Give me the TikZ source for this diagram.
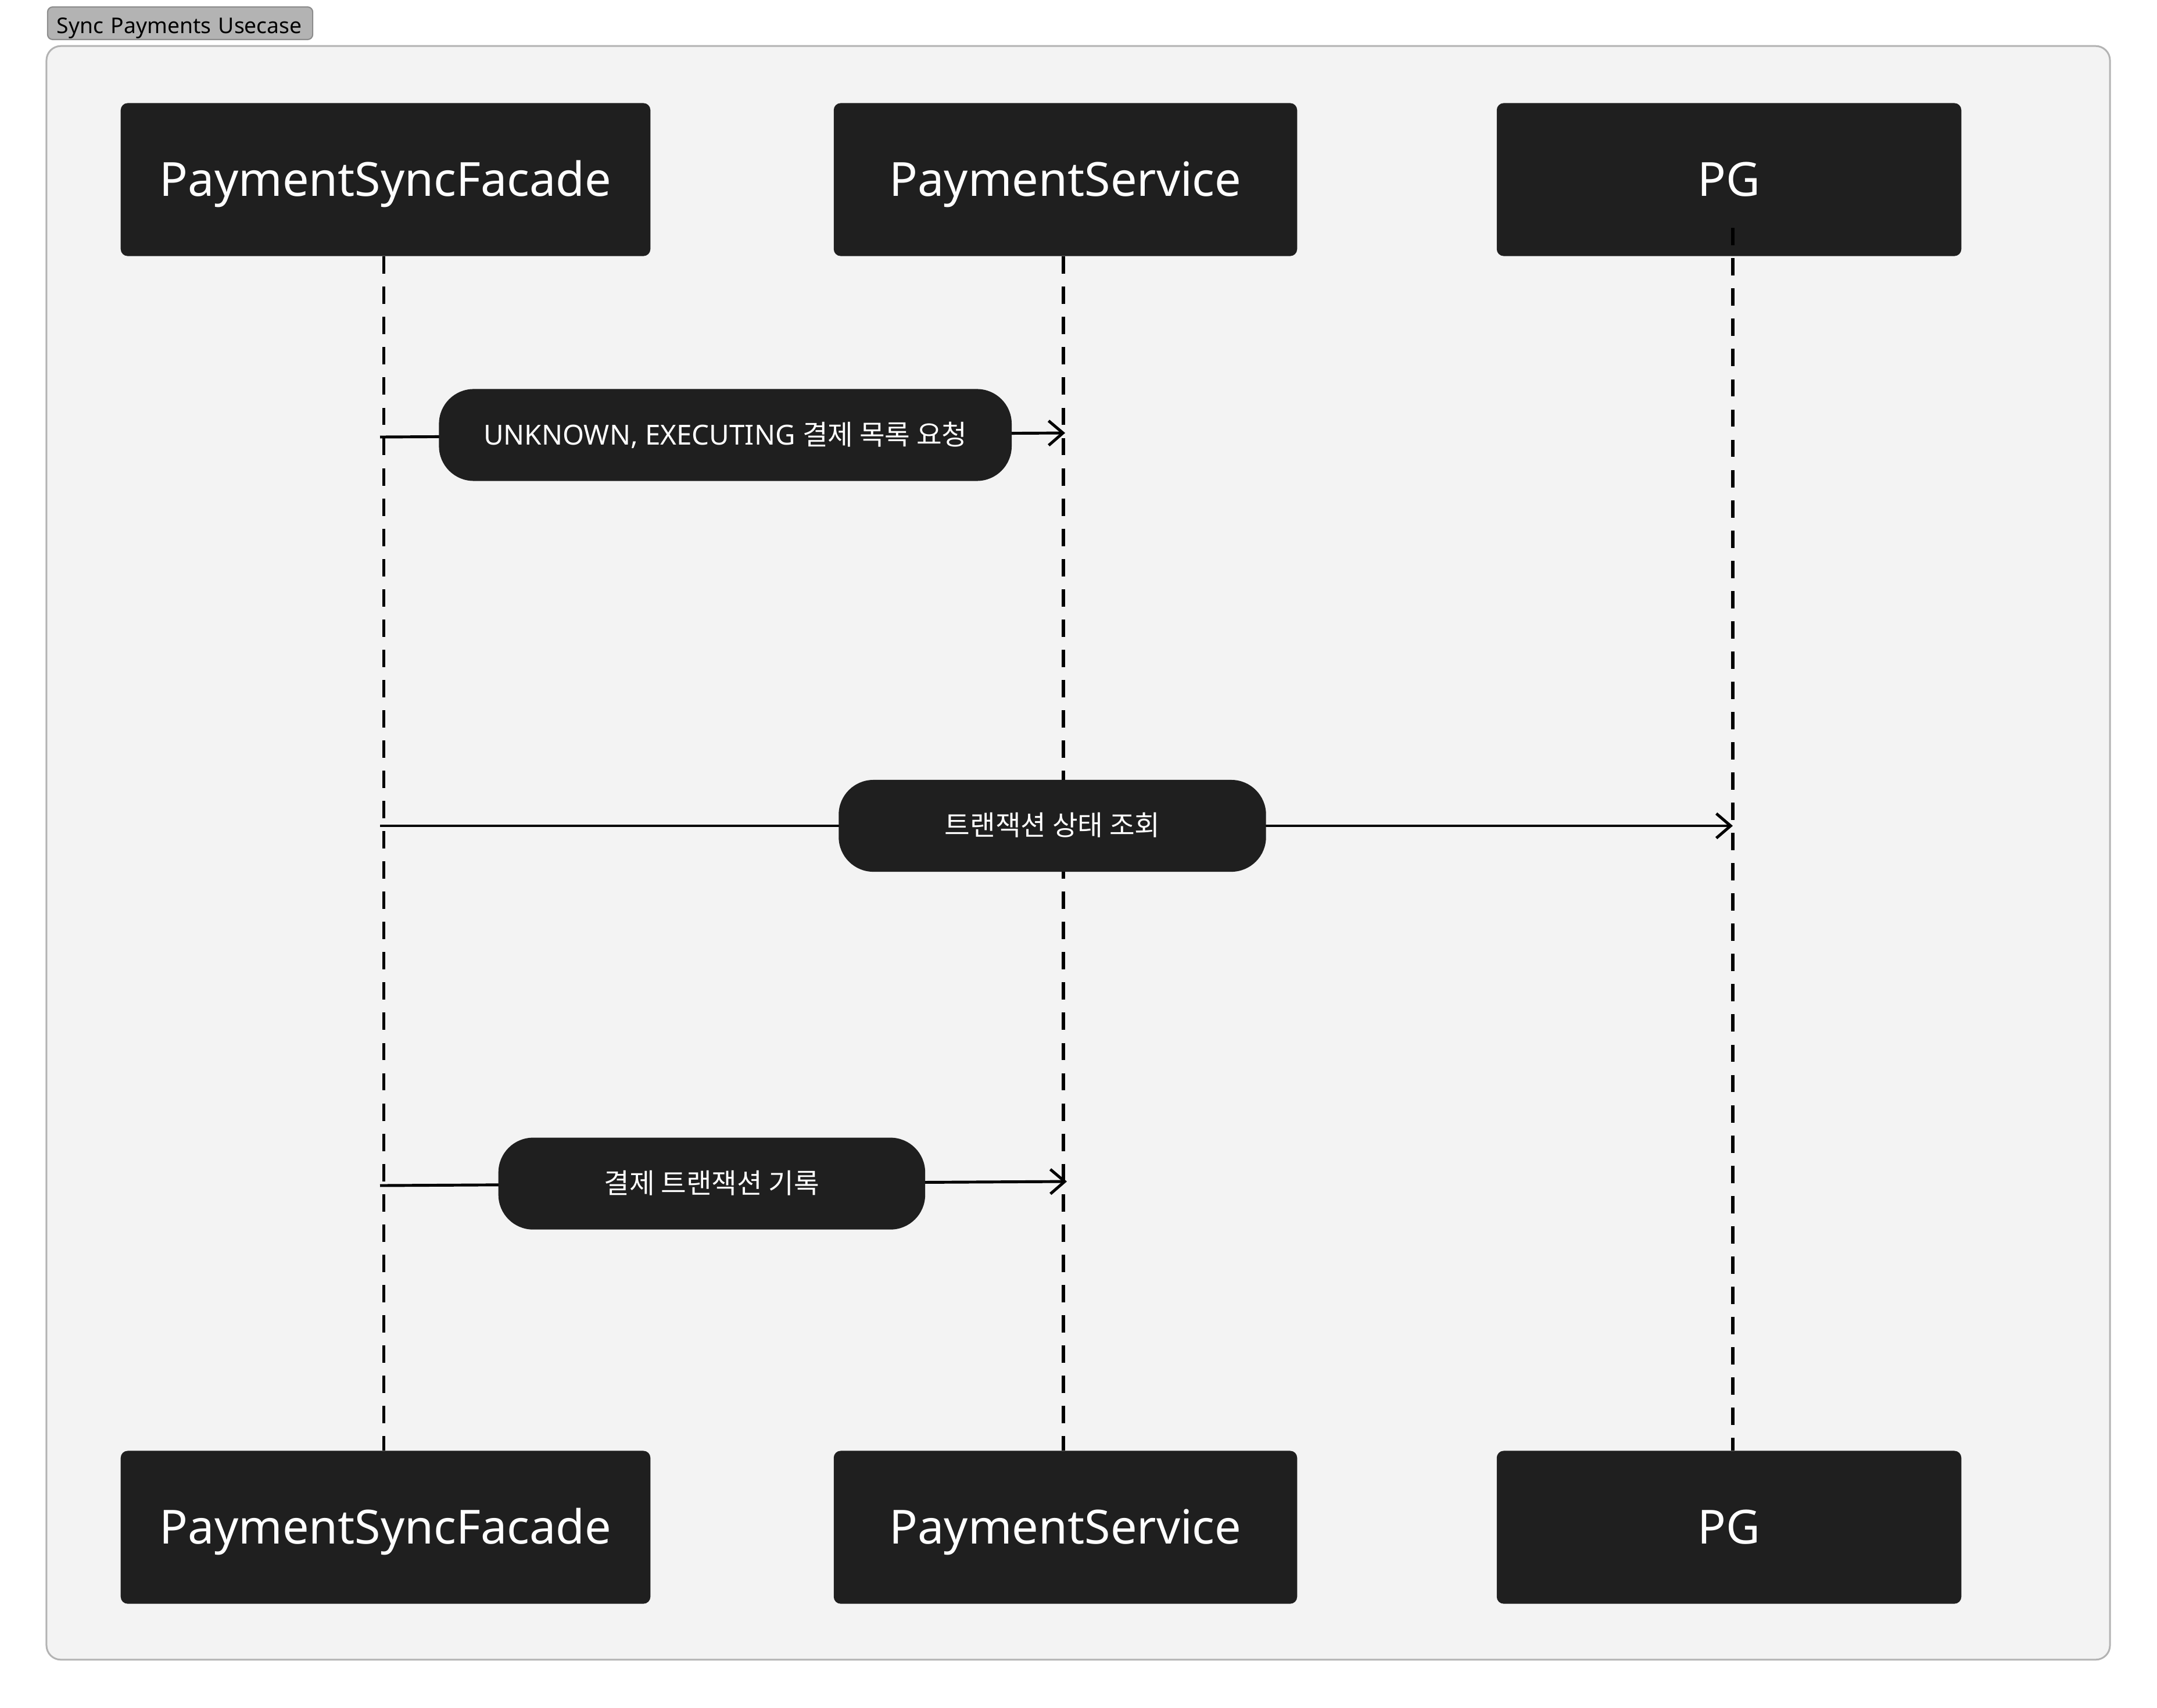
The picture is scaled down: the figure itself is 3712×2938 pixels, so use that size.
\documentclass[tikz,border=0pt]{standalone}
\usepackage{fontspec}
\setmainfont{Noto Sans}
\newfontfamily\kr{Noto Sans CJK KR}
\usetikzlibrary{arrows.meta}
\definecolor{boxfill}{HTML}{1F1F1F}
\definecolor{framefill}{HTML}{F3F3F3}
\definecolor{frameline}{HTML}{B3B3B3}
\definecolor{tagfill}{HTML}{B3B3B3}
\definecolor{tagline}{HTML}{8C8C8C}
\begin{document}
\begin{tikzpicture}[x=0.01cm,y=-0.01cm,
  frame/.style={draw=frameline, fill=framefill, line width=0.85pt, rounded corners=7pt, inner sep=0pt},
  tagbox/.style={draw=tagline, fill=tagfill, line width=0.6pt, rounded corners=2.5pt, inner ysep=0pt,
    inner xsep=0.16cm, text width=4.24cm, align=left, minimum height=0.56cm,
    font=\fontsize{10.6}{12}\selectfont, text=black, text height=9.8pt, text depth=0pt},
  actor/.style={fill=boxfill, draw=none, rounded corners=3.4pt, inner sep=0pt, minimum height=2.63cm,
    text=white, font=\fontsize{23}{28}\selectfont, text height=16.4pt, text depth=0pt},
  lifeline/.style={draw=black, line width=1.7pt, dash pattern=on 8.5pt off 6.3pt},
  msg/.style={draw=black, line width=1.4pt, -{Straight Barb[length=7pt,width=12pt]}},
  pill/.style={fill=boxfill, draw=none, rounded corners=17pt, inner sep=0pt, minimum height=1.58cm,
    text=white, font=\fontsize{13.5}{16}\selectfont, text height=9.6pt, text depth=0pt}]
\useasboundingbox (0,0) rectangle (3712,2938);
% frame and title tag
\node[frame, minimum width=35.49cm, minimum height=27.75cm] (frm) at (1855.5,1467.5) {};
\node[tagbox] (tag) at (310,40) {Sync Payments Usecase};
% actors
\node[actor, minimum width=9.11cm] (fT) at (663.5,309) {PaymentSyncFacade};
\node[actor, minimum width=7.97cm] (sT) at (1833.5,309) {PaymentService};
\node[actor, minimum width=7.99cm] (pT) at (2975.5,309) {PG};
\node[actor, minimum width=9.11cm] (fB) at (663.5,2628) {PaymentSyncFacade};
\node[actor, minimum width=7.97cm] (sB) at (1833.5,2628) {PaymentService};
\node[actor, minimum width=7.99cm] (pB) at (2975.5,2628) {PG};
% lifelines
\draw[lifeline] ([xshift=-0.03cm]fT.south) -- ([xshift=-0.03cm]fB.north);
\draw[lifeline] ([xshift=-0.04cm]sT.south) -- ([xshift=-0.04cm]sB.north);
\draw[lifeline] ([xshift=0.065cm,yshift=0.49cm]pT.south) -- ([xshift=0.065cm]pB.north);
% message anchors
\coordinate (m1s) at (654,752);
\coordinate (m1e) at (1833,745);
\coordinate (m2s) at (654,1421);
\coordinate (m2e) at (2982,1421);
\coordinate (m3s) at (654,2040);
\coordinate (m3e) at (1836,2033);
% messages
\draw[msg] (m1s) -- node[pill, pos=0.504, minimum width=9.85cm] (p1) {UNKNOWN, EXECUTING {\kr 결제 목록 요청}} (m1e);
\draw[msg] (m2s) -- node[pill, pos=0.497, minimum width=7.35cm] (p2) {\kr 트랜잭션 상태 조회} (m2e);
\draw[msg] (m3s) -- node[pill, pos=0.483, minimum width=7.34cm] (p3) {\kr 결제 트랜잭션 기록} (m3e);
\end{tikzpicture}
\end{document}
